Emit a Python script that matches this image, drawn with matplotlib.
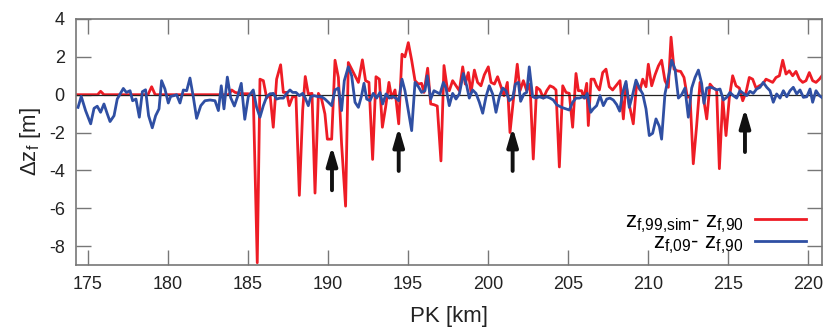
import matplotlib
matplotlib.use("Agg")
import matplotlib.pyplot as plt

plt.rcParams["font.family"] = ["Liberation Sans", "DejaVu Sans"]
plt.rcParams["mathtext.default"] = "regular"
plt.rcParams["axes.unicode_minus"] = False

# z_f,99,sim - z_f,90 (red)
pk_sim = [174.25, 175.6, 175.79, 176.0, 178.75, 178.98, 179.2, 183.8, 183.98, 184.2,
          184.6, 185.0, 185.33, 185.58, 185.75, 185.96, 186.17, 186.375, 186.58, 186.79,
          187.04, 187.21, 187.42, 187.58, 187.79, 188.0, 188.21, 188.42, 188.58, 188.77,
          189.0, 189.19, 189.4, 189.6, 189.81, 189.96, 190.23, 190.44, 190.65, 190.85,
          191.1, 191.27, 191.48, 191.69, 191.9, 192.15, 192.35, 192.56, 192.79, 193.0,
          193.21, 193.4, 193.6, 193.81, 193.98, 194.19, 194.42, 194.625, 194.81, 195.02,
          195.23, 195.44, 195.65, 195.85, 196.0, 196.23, 196.42, 196.63, 196.83, 197.06,
          197.25, 197.46, 197.58, 197.79, 198.0, 198.21, 198.42, 198.58, 198.77, 198.94,
          199.15, 199.35, 199.56, 199.77, 200.02, 200.19, 200.4, 200.6, 200.79, 201.0,
          201.21, 201.375, 201.58, 201.83, 202.0, 202.21, 202.42, 202.625, 202.83, 203.04,
          203.25, 203.46, 203.67, 203.875, 204.08, 204.25, 204.46, 204.67, 204.875, 205.08,
          205.29, 205.5, 205.65, 205.85, 206.0, 206.17, 206.27, 206.44, 206.625, 206.79,
          206.96, 207.17, 207.375, 207.58, 207.79, 208.0, 208.25, 208.46, 208.625, 208.83,
          209.08, 209.29, 209.5, 209.67, 209.875, 210.02, 210.23, 210.44, 210.65, 210.85,
          211.06, 211.27, 211.44, 211.625, 211.83, 212.04, 212.25, 212.46, 212.625, 212.83,
          213.04, 213.25, 213.46, 213.67, 213.875, 214.08, 214.29, 214.46, 214.67, 214.875,
          215.08, 215.29, 215.5, 215.71, 215.92, 216.125, 216.33, 216.54, 216.75, 216.96,
          217.17, 217.375, 217.58, 217.79, 218.0, 218.21, 218.42, 218.625, 218.83, 219.04,
          219.25, 219.46, 219.67, 219.875, 220.08, 220.29, 220.5, 220.71, 220.92]
dz_sim = [0.0, 0.0, 0.18, 0.0, 0.0, 0.42, 0.0, 0.0, 0.25, 0.12,
          0.05, 0.05, 0.0, -8.88, 0.82, 0.74, -0.18, 0.04, -1.72, 0.82,
          1.58, 0.12, 0.12, -0.58, -0.11, -0.11, -5.32, -0.81, 0.96, 0.04,
          0.07, -5.2, 0.07, -0.23, -1.02, -2.35, -2.35, 1.82, 0.91, -2.6,
          -5.89, 1.7, 1.35, 1.0, 0.65, 1.84, 0.74, 0.65, -3.42, 0.95,
          0.82, -1.72, -0.67, 0.65, -0.18, 0.25, -1.54, 2.14, 2.0, 2.75,
          1.82, 0.74, 0.56, 0.6, 0.12, 1.4, -0.49, -0.53, -0.6, -3.5,
          1.54, 0.3, 0.21, 0.74, 0.47, 0.21, 1.47, 0.56, 1.17, 0.12,
          1.3, 0.65, 0.47, 1.05, 1.47, 0.65, 0.56, 0.95, 0.47, -0.05,
          0.65, -2.0, -0.32, 1.61, 0.21, 0.74, 0.21, 0.56, -3.4, 0.39,
          0.25, -0.18, 0.21, 0.47, 0.39, 0.25, -3.82, 0.47, 0.12, 0.07,
          -1.72, 1.12, 0.21, 0.21, -0.18, 0.6, -1.63, 0.82, 0.82, 0.47,
          0.25, 1.17, 1.35, 0.42, 0.25, 0.47, 0.74, -1.28, 0.56, -0.53,
          -1.54, 0.6, 0.25, 0.82, 0.42, 1.61, 0.47, 1.05, 1.52, 1.82,
          0.74, 0.39, 3.04, 1.35, 1.26, 1.23, 0.91, -0.14, -0.05, -3.65,
          -1.63, 0.65, -0.14, -1.28, 0.56, 0.35, 0.25, -3.91, -0.18, -2.16,
          -0.18, 1.0, 0.47, 0.35, -0.32, 0.12, 0.91, 0.82, 0.35, 0.47,
          0.56, 0.82, 0.74, 0.65, 0.91, 1.0, 1.82, 1.09, 1.26, 1.0,
          1.23, 0.82, 0.65, 0.74, 1.17, 0.74, 0.65, 0.82, 1.05]

# z_f,09 - z_f,90 (blue)
pk_09 = [174.38, 174.58, 174.85, 175.17, 175.38, 175.58, 175.79, 176.0, 176.21, 176.38,
         176.63, 176.83, 177.21, 177.4, 177.63, 177.79, 178.0, 178.21, 178.4, 178.6,
         178.79, 179.02, 179.23, 179.44, 179.6, 179.81, 180.02, 180.17, 180.38, 180.54,
         180.75, 180.96, 181.17, 181.375, 181.58, 181.79, 182.05, 182.31, 182.63, 182.94,
         183.15, 183.33, 183.5, 183.71, 183.92, 184.15, 184.35, 184.58, 184.8, 185.02,
         185.33, 185.54, 185.75, 185.96, 186.17, 186.375, 186.58, 186.79, 187.0, 187.21,
         187.42, 187.625, 187.79, 188.0, 188.21, 188.42, 188.58, 188.77, 188.92, 189.125,
         189.4, 189.6, 189.81, 190.02, 190.23, 190.44, 190.65, 190.85, 191.02, 191.27,
         191.48, 191.69, 191.9, 192.1, 192.25, 192.42, 192.625, 192.83, 193.04, 193.25,
         193.42, 193.625, 193.83, 194.04, 194.25, 194.42, 194.625, 194.81, 195.02, 195.23,
         195.44, 195.65, 195.85, 196.06, 196.2, 196.42, 196.625, 196.83, 197.0, 197.21,
         197.375, 197.58, 197.79, 198.0, 198.21, 198.46, 198.67, 198.83, 199.04, 199.25,
         199.46, 199.67, 199.875, 200.08, 200.29, 200.5, 200.71, 200.92, 201.125, 201.33,
         201.54, 201.71, 201.9, 202.04, 202.25, 202.42, 202.58, 202.79, 203.0, 203.21,
         203.46, 203.67, 203.875, 204.08, 204.29, 204.6, 204.875, 205.08, 205.29, 205.5,
         205.71, 205.92, 206.06, 206.2, 206.42, 206.58, 206.79, 207.0, 207.21, 207.42,
         207.625, 207.83, 208.04, 208.23, 208.42, 208.625, 208.83, 209.04, 209.25, 209.46,
         209.67, 209.875, 210.08, 210.29, 210.5, 210.71, 210.85, 211.06, 211.27, 211.48,
         211.69, 211.9, 212.1, 212.31, 212.52, 212.73, 212.94, 213.15, 213.35, 213.5,
         213.67, 213.875, 214.08, 214.29, 214.5, 214.71, 214.92, 215.125, 215.33, 215.54,
         215.75, 215.96, 216.17, 216.375, 216.58, 216.79, 217.0, 217.2, 217.42, 217.625,
         217.83, 218.04, 218.25, 218.46, 218.67, 218.875, 219.08, 219.29, 219.5, 219.71,
         219.92, 220.125, 220.29, 220.5, 220.71, 220.92]
dz_09 = [-0.67, -0.09, -0.84, -1.54, -0.72, -0.61, -0.93, -0.49, -1.02, -1.42,
         -1.11, -0.23, 0.33, 0.12, 0.21, -0.32, -0.23, -1.19, 0.16, 0.26,
         -1.11, -1.75, -1.11, -0.75, 0.74, 0.3, -0.44, -0.09, -0.05, 0.0,
         -0.44, 0.25, 0.21, 0.88, -0.1, -1.25, -0.58, -0.32, -0.28, -0.32,
         -0.84, 0.47, -0.75, 0.93, -0.16, -0.6, -0.1, 0.6, -1.3, -0.1,
         0.25, -0.67, -1.19, -0.58, -0.11, 0.04, 0.07, -0.23, -0.18, -0.18,
         0.07, 0.25, 0.12, 0.12, -0.05, 0.07, -0.18, -0.58, -0.11, -0.05,
         -0.11, -0.11, -0.23, -0.4, -0.58, 0.25, 0.35, -0.84, 0.74, 1.47,
         1.0, -0.4, -0.67, -0.05, 0.6, -0.23, -0.32, 0.07, -0.18, 0.12,
         -0.49, 0.04, -0.18, -0.11, -0.18, -0.32, 0.82, 0.21, -0.84, -1.9,
         0.65, 0.42, 0.12, 0.21, 1.0, -0.23, 0.21, 0.12, 0.04, 0.65,
         0.35, -0.58, 0.07, -0.23, 0.04, 1.12, 0.47, -0.18, 0.25, 0.07,
         -0.4, -0.98, -0.11, 0.47, 0.04, -0.93, -0.11, 0.35, 0.21, -0.32,
         -0.18, 0.56, 0.65, -0.35, 0.04, 0.12, 1.47, -0.11, -0.18, -0.11,
         -0.18, -0.11, -0.18, -0.28, -0.53, -0.67, -0.75, -0.81, -0.4, -0.18,
         -0.18, -0.11, -0.18, 0.07, -0.93, -0.75, -0.58, -0.05, -0.58, -0.23,
         -0.18, -0.28, -0.52, -0.87, 0.12, 0.7, -0.67, 0.0, 0.77, 0.35,
         0.04, -0.75, -2.16, -2.04, -1.28, -1.68, -2.35, 0.04, 0.91, 1.82,
         1.35, -0.18, 0.0, 0.35, -1.19, 0.35, 0.91, 1.3, 0.6, -0.46,
         0.35, 0.39, 0.35, 0.25, 0.3, -0.28, -0.14, 0.12, -0.05, -0.18,
         0.21, 0.07, -0.05, 0.18, 0.07, 0.3, 0.39, 0.65, 0.39, 0.21,
         -0.4, 0.04, -0.18, 0.21, -0.11, 0.21, 0.39, 0.04, 0.25, -0.14,
         -0.11, 0.3, -0.4, 0.21, -0.05, -0.18]

# arrows: position [km], tail and tip [m]
arrow_pk = [190.25, 194.42, 201.54, 216.06]
arrow_tail = [-5.05, -4.03, -4.03, -3.03]
arrow_tip = [-2.72, -1.72, -1.72, -0.72]

xticks = [175, 180, 185, 190, 195, 200, 205, 210, 215, 220]
yticks = [-8, -6, -4, -2, 0, 2, 4]

RED = "#ee1c25"
BLUE = "#2f4fa3"
SPINE = "#777777"

fig = plt.figure(figsize=(8.23, 3.32), dpi=100)
ax = fig.add_axes([0.0923, 0.2018, 0.9065, 0.741])

ax.plot(pk_sim, dz_sim, color=RED, lw=2.0, zorder=2,
        label="$z_{f{,}99{,}sim}$- $z_{f{,}90}$")
ax.axhline(0, color="#222222", lw=0.9, zorder=2.5)
ax.plot(pk_09, dz_09, color=BLUE, lw=2.0, zorder=3,
        label="$z_{f{,}09}$- $z_{f{,}90}$")

for x, y0, y1 in zip(arrow_pk, arrow_tail, arrow_tip):
    ax.annotate("", xy=(x, y1), xytext=(x, y0),
                arrowprops=dict(arrowstyle="-|>,head_length=0.55,head_width=0.16",
                                color="#111111", lw=2.8, mutation_scale=20,
                                shrinkA=0, shrinkB=0), zorder=4)

ax.set_xlim(174.25, 220.875)
ax.set_ylim(-9, 4)
ax.set_xticks(xticks)
ax.set_yticks(yticks)
ax.tick_params(direction="in", length=11, width=1, color=SPINE,
               top=True, right=True, labelsize=13, labelcolor="#222222", pad=8)
for sp in ax.spines.values():
    sp.set_color(SPINE)
    sp.set_linewidth(1.2)

ax.set_xlabel("PK [km]", fontsize=16, color="#222222", labelpad=9)
ax.set_ylabel("Δ$z_f$ [m]", fontsize=16, color="#222222", labelpad=4)

ax.legend(loc="lower right", frameon=False, markerfirst=False, fontsize=16,
          handlelength=2.3, handletextpad=0.5, labelspacing=-0.1,
          borderaxespad=0.0, bbox_to_anchor=(0.99, 0.0))

fig.savefig("out.png", dpi=100)
